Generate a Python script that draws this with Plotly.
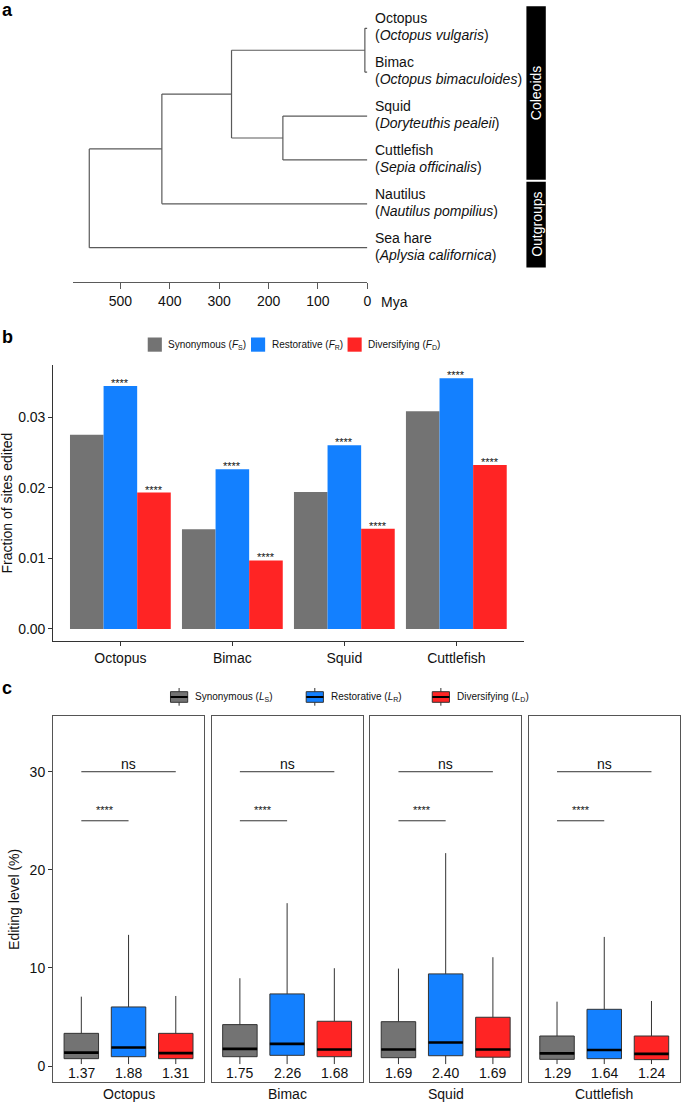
import plotly.graph_objects as go

W, H = 685, 1102
FONT = "Liberation Sans, Arial, Helvetica, sans-serif"


def px(x):
    return x / W


def py(y):
    return 1 - y / H


# ---------------- data ----------------
# panel a: phylogeny
tips = ["Octopus", "Bimac", "Squid", "Cuttlefish", "Nautilus", "Sea hare"]
tip_species = ["Octopus vulgaris", "Octopus bimaculoides", "Doryteuthis pealeii",
               "Sepia officinalis", "Nautilus pompilius", "Aplysia californica"]
node_names = ["octopods", "decapods", "coleoids", "cephalopods", "root"]
node_children = [["Octopus", "Bimac"], ["Squid", "Cuttlefish"], ["octopods", "decapods"],
                 ["coleoids", "Nautilus"], ["cephalopods", "Sea hare"]]
node_ages = [5, 171, 275, 416, 563]
age_ticks = [500, 400, 300, 200, 100, 0]
clade_names = ["Coleoids", "Outgroups"]
clade_members = [["Octopus", "Bimac", "Squid", "Cuttlefish"], ["Nautilus", "Sea hare"]]

# panel b: fraction of sites edited
species = ["Octopus", "Bimac", "Squid", "Cuttlefish"]
site_types = ["Synonymous", "Restorative", "Diversifying"]
frac_syn = [0.0275, 0.0141, 0.0194, 0.0308]
frac_res = [0.0344, 0.0226, 0.0260, 0.0355]
frac_div = [0.0193, 0.0097, 0.0142, 0.0232]
sig_syn = ["", "", "", ""]
sig_res = ["****", "****", "****", "****"]
sig_div = ["****", "****", "****", "****"]
frac_ticks = [0.00, 0.01, 0.02, 0.03]

# panel c: editing level (%) box statistics, per species
syn_low = [0.2, 0.2, 0.2, 0.2]
syn_q1 = [0.75, 0.95, 0.85, 0.68]
syn_med = [1.37, 1.75, 1.69, 1.29]
syn_q3 = [3.33, 4.22, 4.52, 3.06]
syn_up = [7.07, 8.95, 9.93, 6.56]

res_low = [0.2, 0.2, 0.2, 0.2]
res_q1 = [0.95, 1.09, 1.05, 0.75]
res_med = [1.88, 2.26, 2.40, 1.64]
res_q3 = [6.02, 7.35, 9.39, 5.78]
res_up = [13.37, 16.6, 21.7, 13.16]

div_low = [0.2, 0.2, 0.2, 0.2]
div_q1 = [0.75, 0.95, 0.90, 0.65]
div_med = [1.31, 1.68, 1.69, 1.24]
div_q3 = [3.33, 4.56, 4.97, 3.06]
div_up = [7.14, 9.97, 11.09, 6.63]

level_ticks = [0, 10, 20, 30]
sig_top = ["ns", "ns", "ns", "ns"]
sig_top_level = [30, 30, 30, 30]
sig_low = ["****", "****", "****", "****"]
sig_low_level = [25, 25, 25, 25]

# ---------------- styles ----------------
COLORS = ["#737373", "#1380FF", "#FF2424"]
TREE = "#5a5a5a"
AX = "#333333"
TXT = "#111111"

fig = go.Figure()
ann = []
shapes = []

# ================= panel a =================
ypos = {name: len(tips) - i for i, name in enumerate(tips)}
age = {name: 0 for name in tips}
for n, a, ch in zip(node_names, node_ages, node_children):
    ypos[n] = sum(ypos[c] for c in ch) / len(ch)
    age[n] = a
xs, ys = [], []
for n, ch in zip(node_names, node_children):
    yl = [ypos[c] for c in ch]
    xs += [age[n], age[n], None]
    ys += [min(yl), max(yl), None]
    for c in ch:
        xs += [age[n], age[c], None]
        ys += [ypos[c], ypos[c], None]
fig.add_trace(go.Scatter(x=xs, y=ys, mode="lines", line=dict(color=TREE, width=1.2),
                         xaxis="x", yaxis="y", showlegend=False, hoverinfo="skip",
                         cliponaxis=False))

for t, sp in zip(tips, tip_species):
    ann.append(dict(xref="x", yref="y", x=0, y=ypos[t], xanchor="left", yanchor="middle",
                    xshift=5.5, yshift=10, text=t, showarrow=False,
                    font=dict(size=14, color=TXT)))
    ann.append(dict(xref="x", yref="y", x=0, y=ypos[t], xanchor="left", yanchor="middle",
                    xshift=5.5, yshift=-7, text="(<i>" + sp + "</i>)", showarrow=False,
                    font=dict(size=14, color=TXT)))

for cname, members in zip(clade_names, clade_members):
    yv = [ypos[m] for m in members]
    y1 = max(yv) + 0.5
    y0 = min(yv) - 0.45
    shapes.append(dict(type="rect", xref="paper", yref="y", x0=px(529.5), x1=px(549),
                       y0=y0, y1=y1, fillcolor="black", line=dict(width=0)))
    ann.append(dict(xref="paper", yref="y", x=px(539.3), y=(y0 + y1) / 2, text=cname,
                    textangle=-90, showarrow=False, font=dict(size=14, color="white"),
                    xanchor="center", yanchor="middle"))

ann.append(dict(xref="x", yref="paper", x=0, y=py(301.5), xanchor="left", yanchor="middle",
                xshift=11.5, text="Mya", showarrow=False, font=dict(size=14, color=TXT)))

# ================= panel b =================
bar_offsets = [-0.3, 0.0, 0.3]
for vals, col, name, sig, off in zip([frac_syn, frac_res, frac_div], COLORS, site_types,
                                     [sig_syn, sig_res, sig_div], bar_offsets):
    fig.add_trace(go.Bar(x=species, y=vals, name=name, marker=dict(color=col, line=dict(width=0)),
                         xaxis="x2", yaxis="y2", showlegend=False, hoverinfo="skip"))
    for i, (v, s) in enumerate(zip(vals, sig)):
        if s:
            ann.append(dict(xref="x2", yref="y2", x=i + off, y=v, text=s, showarrow=False,
                            xanchor="center", yanchor="bottom", yshift=-5,
                            font=dict(size=11, color=TXT)))

ann.append(dict(xref="paper", yref="paper", x=px(7.5), y=py(503), text="Fraction of sites edited",
                textangle=-90, showarrow=False, font=dict(size=14, color=TXT),
                xanchor="center", yanchor="middle"))

# legend b
leg_b_sym = ["S", "R", "D"]
leg_b_x = [148.6, 252.5, 349.6]
for name, sub, col, x0 in zip(site_types, leg_b_sym, COLORS, leg_b_x):
    shapes.append(dict(type="rect", xref="paper", yref="paper", x0=px(x0), x1=px(x0 + 14.2),
                       y0=py(351.7), y1=py(337.5), fillcolor=col, line=dict(width=0)))
    ann.append(dict(xref="paper", yref="paper", x=px(x0 + 18.8), y=py(344.5), xanchor="left",
                    yanchor="middle", showarrow=False,
                    text=f"{name} (<i>F</i><sub>{sub}</sub>)", font=dict(size=10, color=TXT)))

# ================= panel c =================
panel_x0 = [53.3, 212.8, 372.3, 531.8]
panel_w = 152.0
box_w = 0.73
stats = [
    (syn_low, syn_q1, syn_med, syn_q3, syn_up),
    (res_low, res_q1, res_med, res_q3, res_up),
    (div_low, div_q1, div_med, div_q3, div_up),
]
for i, sp in enumerate(species):
    xa = f"x{3 + i}"
    ya = f"y{3 + i}"
    for j, (st, col) in enumerate(zip(stats, COLORS)):
        lo, q1, md, q3, up = st
        fig.add_trace(go.Box(x=[j + 1], q1=[q1[i]], median=[md[i]], q3=[q3[i]],
                             lowerfence=[lo[i]], upperfence=[up[i]], width=box_w,
                             fillcolor=col, line=dict(color=AX, width=1), whiskerwidth=0,
                             boxpoints=False, xaxis=xa, yaxis=ya, showlegend=False,
                             hoverinfo="skip"))
        fig.add_trace(go.Scatter(x=[j + 1 - box_w / 2, j + 1 + box_w / 2], y=[md[i], md[i]],
                                 mode="lines", line=dict(color="black", width=2.6),
                                 xaxis=xa, yaxis=ya, showlegend=False, hoverinfo="skip"))
        ann.append(dict(xref=xa, yref=ya, x=j + 1, y=-0.72, text=f"{md[i]:.2f}",
                        showarrow=False, xanchor="center", yanchor="middle",
                        font=dict(size=14, color=TXT)))
    # significance brackets
    shapes.append(dict(type="line", xref=xa, yref=ya, x0=1, x1=3, y0=sig_top_level[i],
                       y1=sig_top_level[i], line=dict(color=AX, width=1)))
    shapes.append(dict(type="line", xref=xa, yref=ya, x0=1, x1=2, y0=sig_low_level[i],
                       y1=sig_low_level[i], line=dict(color=AX, width=1)))
    ann.append(dict(xref=xa, yref=ya, x=2, y=sig_top_level[i], text=sig_top[i], showarrow=False,
                    xanchor="center", yanchor="bottom", yshift=-2.5,
                    font=dict(size=14, color=TXT)))
    ann.append(dict(xref=xa, yref=ya, x=1.5, y=sig_low_level[i], text=sig_low[i], showarrow=False,
                    xanchor="center", yanchor="bottom", yshift=2.5,
                    font=dict(size=11, color=TXT)))
    # strip label (bottom)
    ann.append(dict(xref=f"{xa} domain", yref="paper", x=0.5, y=py(1094), text=sp,
                    showarrow=False, xanchor="center", yanchor="middle",
                    font=dict(size=14, color=TXT)))

ann.append(dict(xref="paper", yref="paper", x=px(14), y=py(899), text="Editing level (%)",
                textangle=-90, showarrow=False, font=dict(size=14, color=TXT),
                xanchor="center", yanchor="middle"))

# legend c
leg_c_sym = ["S", "R", "D"]
leg_c_x = [171.5, 308.0, 434.8]
for name, sub, col, x0 in zip(site_types, leg_c_sym, COLORS, leg_c_x):
    x1 = x0 + 17.3
    xm = (x0 + x1) / 2
    shapes.append(dict(type="line", xref="paper", yref="paper", x0=px(xm), x1=px(xm),
                       y0=py(688), y1=py(705.7), line=dict(color=AX, width=1)))
    shapes.append(dict(type="rect", xref="paper", yref="paper", x0=px(x0), x1=px(x1),
                       y0=py(702.3), y1=py(691.7), fillcolor=col, line=dict(color=AX, width=1)))
    shapes.append(dict(type="line", xref="paper", yref="paper", x0=px(x0), x1=px(x1),
                       y0=py(697), y1=py(697), line=dict(color="black", width=2)))
    ann.append(dict(xref="paper", yref="paper", x=px(x1 + 5.5), y=py(697), xanchor="left",
                    yanchor="middle", showarrow=False,
                    text=f"{name} (<i>L</i><sub>{sub}</sub>)", font=dict(size=10, color=TXT)))

# panel letters
for letter, yc in zip(["a", "b", "c"], [10, 337, 688]):
    ann.append(dict(xref="paper", yref="paper", x=0, y=py(yc), xanchor="left", yanchor="middle",
                    text=f"<b>{letter}</b>", showarrow=False, font=dict(size=18, color="black")))

# ---------------- layout ----------------
tick_font = dict(size=14, color=TXT, family=FONT)
layout = dict(
    width=W, height=H, margin=dict(l=0, r=0, t=0, b=0),
    paper_bgcolor="white", plot_bgcolor="white",
    font=dict(family=FONT, color=TXT),
    barmode="group", bargap=0.1, bargroupgap=0, boxmode="overlay",
    showlegend=False,
    xaxis=dict(domain=[px(73.4), px(369.5)], range=[596, 0], tickvals=age_ticks,
               ticks="outside", ticklen=6, tickcolor=TREE, showline=True, linecolor=TREE,
               linewidth=1, showgrid=False, zeroline=False, tickfont=tick_font, anchor="y"),
    yaxis=dict(domain=[py(282), 1], range=[0.218, 6.645], visible=False, anchor="x"),
    xaxis2=dict(domain=[px(53.5), px(526.6)], type="category", range=[-0.6, 3.6],
                ticks="outside", ticklen=4, tickcolor=AX, showline=True, linecolor=AX,
                linewidth=1, showgrid=False, zeroline=False, tickfont=tick_font, anchor="y2"),
    yaxis2=dict(domain=[py(641), py(365)], range=[-0.0017, 0.03736], tickvals=frac_ticks,
                tickformat=".2f", ticks="outside", ticklen=4, tickcolor=AX, showline=True,
                linecolor=AX, linewidth=1, showgrid=False, zeroline=False, tickfont=tick_font,
                anchor="x2"),
    annotations=ann, shapes=shapes,
)
for i in range(4):
    k = 3 + i
    layout[f"xaxis{k}"] = dict(domain=[px(panel_x0[i]), px(panel_x0[i] + panel_w)],
                               range=[0.4, 3.6], showticklabels=False, ticks="",
                               showline=True, mirror=True, linecolor="#555555", linewidth=1,
                               showgrid=False, zeroline=False, anchor=f"y{k}")
    layout[f"yaxis{k}"] = dict(domain=[py(1082.3), py(716)], range=[-1.66, 35.68],
                               tickvals=level_ticks, showticklabels=(i == 0),
                               ticks="outside" if i == 0 else "", ticklen=4, tickcolor=AX,
                               showline=True, mirror=True, linecolor="#555555", linewidth=1,
                               showgrid=False, zeroline=False, tickfont=tick_font,
                               anchor=f"x{k}")
fig.update_layout(**layout)

fig.write_html("out.html", config={"displayModeBar": False},
               post_script="document.body.style.margin='0';document.body.style.overflow='hidden';")
